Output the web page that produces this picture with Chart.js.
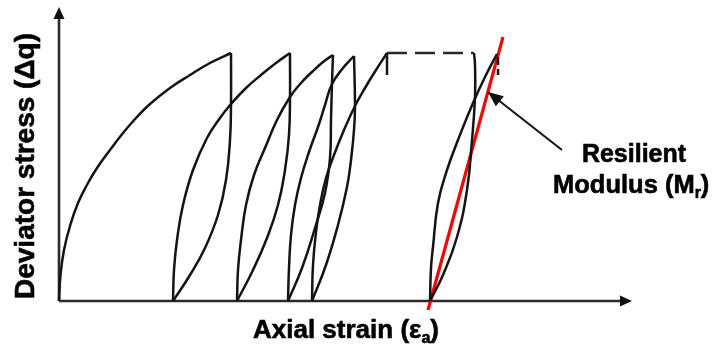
<!DOCTYPE html>
<html>
<head>
<meta charset="utf-8">
<script src="https://cdn.jsdelivr.net/npm/chart.js@4/dist/chart.umd.min.js"></script>
<style>
  html, body { margin: 0; padding: 0; background: #ffffff; }
  #wrap { width: 717px; height: 348px; }
</style>
</head>
<body>
<div id="wrap"><canvas id="c" width="717" height="348"></canvas></div>
<script>
// Repeated-load triaxial test: deviator stress vs axial strain (schematic units).
// Each list holds [axial strain, deviator stress] points along one branch.

const firstLoading = [[0,0],[0.15,2.6],[0.5,5.1],[1.1,7.5],[1.9,9.8],[2.9,11.8],[3.8,13.3],[5.1,15.1],[6.4,16.8],[7.7,18.3],[9.1,19.7],[11.1,21.3],[13.1,22.6],[15.1,23.8],[17.2,24.8]];

const unload1 = [[17.2,24.8],[17.2,19.7],[17.1,16.1],[16.7,12.1],[15.9,8.6],[14.6,5.3],[13.1,2.6],[11.4,0]];
const reload1 = [[11.4,0],[11.5,3.1],[11.8,6.1],[12.4,9.6],[13.4,13.1],[14.8,16.3],[16.1,18.3],[17.2,19.7],[18.7,21.3],[20.2,22.6],[21.7,23.8],[23.1,24.8]];

const unload2 = [[23.1,24.8],[23.1,20.4],[23.0,16.6],[22.6,13.1],[21.9,9.6],[20.8,6.3],[19.4,3.1],[17.8,0]];
const reload2 = [[17.8,0],[17.9,3.1],[18.2,6.1],[18.7,9.6],[19.5,12.6],[20.6,15.3],[21.8,18.1],[23.1,20.4],[24.2,21.8],[25.3,22.9],[26.4,23.9],[27.4,24.6]];

const unload3 = [[27.4,24.6],[27.3,21.8],[27.2,18.1],[27.1,14.3],[26.6,10.8],[25.6,7.3],[24.3,3.3],[22.9,0]];
const reload3 = [[22.9,0],[23.0,3.3],[23.2,6.6],[23.6,9.6],[24.2,12.3],[25.0,14.9],[25.9,17.4],[26.6,19.6],[27.3,21.7],[28.4,23.3],[29.5,24.5]];

const unload4 = [[29.5,24.5],[29.6,19.5],[29.5,17.1],[29.2,14.1],[28.8,11.4],[27.9,7.6],[26.7,3.6],[25.3,0]];
const reload4 = [[25.3,0],[25.4,3.6],[25.7,6.9],[26.1,9.6],[26.7,12.3],[27.5,14.6],[28.5,17.1],[29.6,19.5],[30.6,21.3],[31.7,23.1],[32.8,24.8]];

const peakTick = [[32.8,24.8],[32.8,22.6]];
const manyCycles = [[32.8,24.8],[41.5,24.8]];

const unloadLast = [[41.5,24.8],[41.6,23.6],[41.6,20.4],[41.3,16.1],[40.8,11.1],[39.8,6.4],[38.4,2.6],[37.1,0]];
const reloadLast = [[37.1,0],[37.2,3.3],[37.4,5.4],[37.9,9.8],[38.8,13.1],[39.9,16.1],[41.4,19.8],[42.8,22.8],[43.8,24.7]];
const lastPeakTick = [[43.9,24.4],[43.9,22.6]];

// Secant through the last loop: its slope is the resilient modulus
const modulusLine = [[36.9,-0.9],[44.4,26.4]];

// Callout pointing at the secant line (start, tip)
const callout = [[50.3,15.1],[42.9,20.9]];

const strainMax = 57.3;
const stressMax = 29.4;

const toXY = pts => pts.map(p => ({ x: p[0], y: p[1] }));

const INK = '#141414';
function branch(pts, extra) {
  return Object.assign({
    data: toXY(pts),
    showLine: true,
    borderColor: INK,
    borderWidth: 2.5,
    pointRadius: 0,
    tension: 0.45,
    fill: false,
    clip: false
  }, extra || {});
}

const datasets = [
  branch(firstLoading),
  branch(unload1), branch(reload1),
  branch(unload2), branch(reload2),
  branch(unload3), branch(reload3),
  branch(unload4), branch(reload4),
  branch(peakTick, { tension: 0 }),
  branch(manyCycles, { tension: 0, borderDash: [20, 8], borderColor: '#2a2a2a' }),
  branch(unloadLast), branch(reloadLast),
  branch(lastPeakTick, { tension: 0, borderDash: [8, 4] }),
  branch(callout, { tension: 0, borderColor: '#111', borderWidth: 2 }),
  branch(modulusLine, { tension: 0, borderColor: '#ff0000', borderWidth: 3.2 })
];

const FONT = '"Liberation Sans", Arial, sans-serif';

function richText(ctx, parts, x, y, size, align) {
  let total = 0;
  parts.forEach(p => {
    ctx.font = 'bold ' + (p.sub ? size * 0.62 : size) + 'px ' + FONT;
    p.w = ctx.measureText(p.t).width;
    total += p.w;
  });
  let cx = align === 'center' ? x - total / 2 : x;
  parts.forEach(p => {
    const s = p.sub ? size * 0.62 : size;
    ctx.font = 'bold ' + s + 'px ' + FONT;
    const yy = p.sub ? y + size * 0.2 : y;
    ctx.fillText(p.t, cx, yy);
    ctx.strokeText(p.t, cx, yy);
    cx += p.w;
  });
}

const schematic = {
  id: 'schematic',
  beforeDatasetsDraw(chart) {
    const { ctx } = chart;
    const xs = chart.scales.x, ys = chart.scales.y;
    const x0 = xs.getPixelForValue(0), y0 = ys.getPixelForValue(0);
    const xEnd = xs.getPixelForValue(strainMax), yEnd = ys.getPixelForValue(stressMax);
    ctx.save();
    ctx.strokeStyle = '#2b2b2b';
    ctx.fillStyle = '#111';
    ctx.lineWidth = 2.6;
    ctx.beginPath();
    ctx.moveTo(x0, y0);
    ctx.lineTo(xEnd - 8, y0);
    ctx.moveTo(x0, y0);
    ctx.lineTo(x0, yEnd + 8);
    ctx.stroke();
    // arrowheads
    ctx.beginPath();
    ctx.moveTo(xEnd, y0);
    ctx.lineTo(xEnd - 12, y0 - 5.5);
    ctx.lineTo(xEnd - 12, y0 + 5.5);
    ctx.closePath();
    ctx.fill();
    ctx.beginPath();
    ctx.moveTo(x0, yEnd);
    ctx.lineTo(x0 - 5.5, yEnd + 12);
    ctx.lineTo(x0 + 5.5, yEnd + 12);
    ctx.closePath();
    ctx.fill();
    ctx.restore();
  },
  afterDatasetsDraw(chart) {
    const { ctx } = chart;
    const xs = chart.scales.x, ys = chart.scales.y;
    // callout arrowhead
    const ax = xs.getPixelForValue(callout[0][0]), ay = ys.getPixelForValue(callout[0][1]);
    const tx = xs.getPixelForValue(callout[1][0]), ty = ys.getPixelForValue(callout[1][1]);
    const ang = Math.atan2(ty - ay, tx - ax);
    const L = 15, W = 6.5;
    ctx.save();
    ctx.fillStyle = '#111';
    ctx.beginPath();
    ctx.moveTo(tx, ty);
    ctx.lineTo(tx - L * Math.cos(ang) + W * Math.sin(ang), ty - L * Math.sin(ang) - W * Math.cos(ang));
    ctx.lineTo(tx - L * Math.cos(ang) - W * Math.sin(ang), ty - L * Math.sin(ang) + W * Math.cos(ang));
    ctx.closePath();
    ctx.fill();

    // labels
    ctx.fillStyle = '#000';
    ctx.strokeStyle = '#000';
    ctx.lineWidth = 0.6;
    ctx.textBaseline = 'alphabetic';
    ctx.textAlign = 'left';
    richText(ctx, [{ t: 'Resilient' }], 634, 162, 25, 'center');
    richText(ctx, [{ t: 'Modulus (M' }, { t: 'r', sub: true }, { t: ')' }], 553, 193, 25.5, 'left');
    richText(ctx, [{ t: 'Axial strain (\u03b5' }, { t: 'a', sub: true }, { t: ')' }], 346, 338, 26, 'center');
    ctx.save();
    ctx.translate(34, 166);
    ctx.rotate(-Math.PI / 2);
    richText(ctx, [{ t: 'Deviator stress (\u0394q)' }], 0, 0, 28, 'center');
    ctx.restore();
    ctx.restore();
  }
};

new Chart(document.getElementById('c').getContext('2d'), {
  type: 'scatter',
  data: { datasets },
  options: {
    responsive: false,
    animation: false,
    events: [],
    layout: { padding: { left: 59, top: 7, right: 85, bottom: 47 } },
    scales: {
      x: { type: 'linear', min: 0, max: strainMax, display: false },
      y: { type: 'linear', min: 0, max: stressMax, display: false }
    },
    plugins: { legend: { display: false }, tooltip: { enabled: false } }
  },
  plugins: [schematic]
});
</script>
</body>
</html>
